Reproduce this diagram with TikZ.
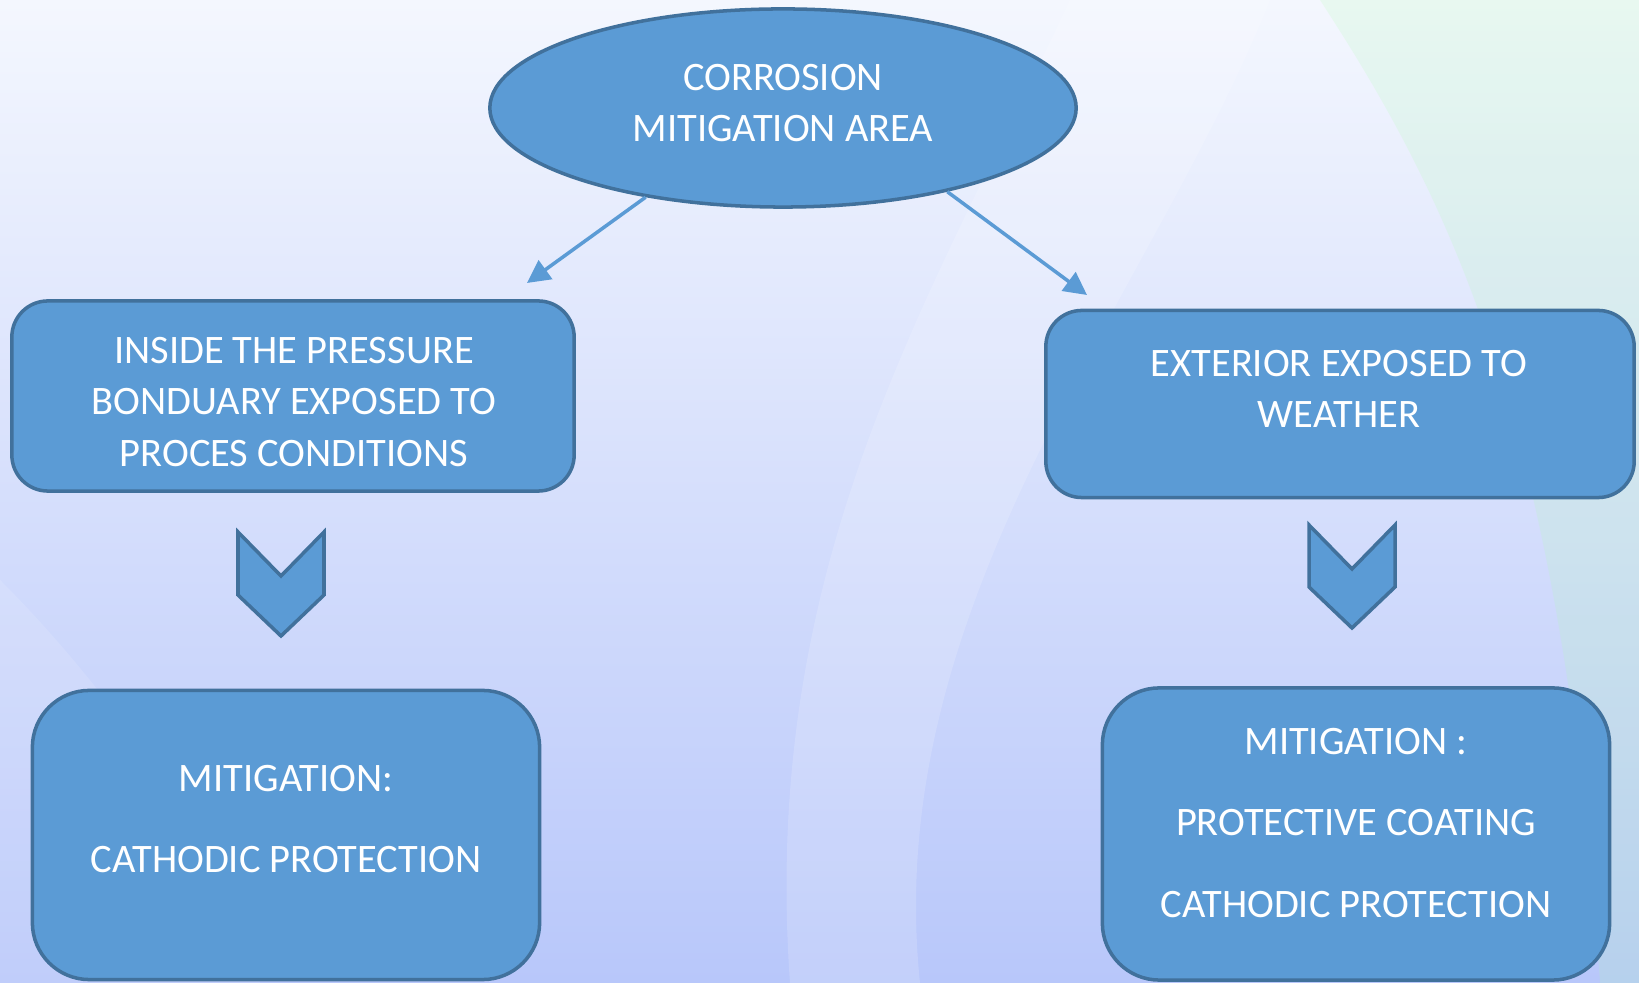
\documentclass[tikz,border=0pt]{standalone}
\usepackage{fontspec}
\setmainfont{Carlito}
\usetikzlibrary{shapes.geometric,arrows.meta}

\definecolor{boxfill}{HTML}{5B9BD5}
\definecolor{boxline}{HTML}{41719C}
\definecolor{bgtop}{HTML}{F4F7FE}
\definecolor{bgbottom}{HTML}{B8C7FA}

\begin{document}
\begin{tikzpicture}[x=0.01cm,y=-0.01cm]
    \tikzstyle{blueshape}=[fill=boxfill, draw=boxline, line width=1pt]
    \tikzstyle{box}=[blueshape, rectangle, rounded corners=0.36cm, inner sep=0pt]
    \tikzstyle{txt}=[text=white, align=center, font=\fontsize{11.5}{14.6}\selectfont]
    \tikzstyle{link}=[draw=boxfill, line width=1pt, -{Triangle[length=6.5pt,width=6.5pt]}]

    % background
    \useasboundingbox (0,0) rectangle (1639,983);
    \fill[top color=bgtop, bottom color=bgbottom] (0,0) rectangle (1639,983);
    \fill[white, opacity=0.16] (1070,0) .. controls (930,300) and (760,560) .. (790,983)
        -- (920,983) .. controls (880,600) and (1150,300) .. (1270,0) -- cycle;
    \fill[green!30!white, opacity=0.18] (1320,0) .. controls (1450,200) and (1560,420) .. (1600,983)
        -- (1639,983) -- (1639,0) -- cycle;
    \fill[white, opacity=0.12] (0,580) .. controls (120,700) and (220,850) .. (260,983)
        -- (0,983) -- cycle;

    % ellipse
    \node[blueshape, ellipse, minimum width=5.86cm, minimum height=1.98cm, inner sep=0pt] (corr) at (783,108) {};
    \node[txt] (corr-t) at (783,103) {CORROSION\\MITIGATION AREA};

    % upper boxes
    \node[box, minimum width=5.62cm, minimum height=1.90cm] (inside) at (293,396) {};
    \node[txt] (inside-t) at (294,402) {INSIDE THE PRESSURE\\BONDUARY EXPOSED TO\\PROCES CONDITIONS};
    \node[box, minimum width=5.88cm, minimum height=1.87cm] (ext) at (1340,404) {};
    \node[txt] (ext-t) at (1339,389) {EXTERIOR EXPOSED TO\\WEATHER};

    % chevrons
    \filldraw[blueshape] (238,532) -- (281,576) -- (324,532) -- (324,595) -- (281,636) -- (238,595) -- cycle;
    \filldraw[blueshape] (1309,525) -- (1352,569) -- (1395,525) -- (1395,587) -- (1352,628) -- (1309,587) -- cycle;

    % lower boxes
    \node[box, rounded corners=0.57cm, minimum width=5.07cm, minimum height=2.89cm] (mitl) at (286,835) {};
    \node[txt] (mitl-t) at (286,819) {MITIGATION:\\[8.5pt]CATHODIC PROTECTION};
    \node[box, rounded corners=0.57cm, minimum width=5.07cm, minimum height=2.92cm] (mitr) at (1356,834) {};
    \node[txt] (mitr-t) at (1356,823) {MITIGATION :\\[8.5pt]PROTECTIVE COATING\\[8.5pt]CATHODIC PROTECTION};

    % arrows
    \coordinate (inside-in) at (527,283);
    \coordinate (ext-in) at (1087,295);
    \draw[link] (corr.213.6) -- (inside-in);
    \draw[link] (corr.333) -- (ext-in);
\end{tikzpicture}
\end{document}
